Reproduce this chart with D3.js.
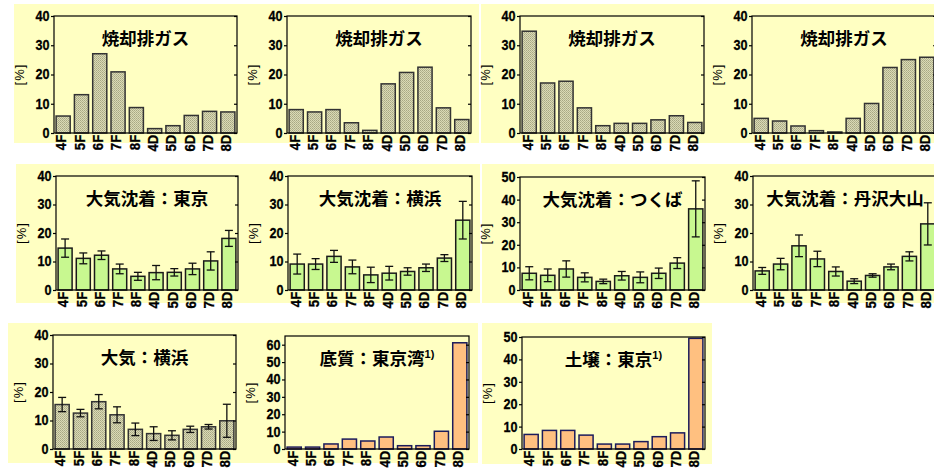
<!DOCTYPE html>
<html>
<head>
<meta charset="utf-8">
<script src="https://cdn.jsdelivr.net/npm/d3@7/dist/d3.min.js"></script>
<style>
  body { margin: 0; background: #fff; }
  svg { display: block; }
</style>
</head>
<body>
<svg id="chart" width="934" height="475"></svg>
<script>
// Homologue categories (F = furans, D = dioxins) shared by every panel
const categories = ["4F", "5F", "6F", "7F", "8F", "4D", "5D", "6D", "7D", "8D"];

// Incineration flue gas profiles [%]
const fluegas1 = [5.8, 13.1, 27.1, 20.9, 8.7, 1.5, 2.5, 6.0, 7.4, 7.2];
const fluegas2 = [8.0, 7.2, 8.0, 3.5, 0.9, 16.8, 20.7, 22.5, 8.6, 4.6];
const fluegas3 = [34.8, 17.1, 17.7, 8.6, 2.5, 3.3, 3.3, 4.5, 5.9, 3.6];
const fluegas4 = [5.0, 4.1, 2.4, 0.8, 0.35, 5.0, 10.1, 22.4, 25.1, 25.9];

// Atmospheric deposition: means and error half-widths [%]
const depTokyo      = [14.7, 11.1, 12.2, 7.4, 4.8, 6.1, 6.2, 7.4, 10.2, 18.1];
const depTokyoErr   = [3.2, 1.9, 1.5, 1.7, 1.4, 2.5, 1.3, 2.0, 3.2, 2.8];
const depYokohama   = [9.1, 9.1, 11.8, 8.1, 5.3, 5.9, 6.5, 7.8, 11.2, 24.5];
const depYokohamaErr= [3.5, 1.9, 2.1, 2.4, 2.7, 2.4, 1.3, 1.3, 1.2, 6.6];
const depTsukuba    = [7.4, 6.5, 9.3, 5.6, 3.8, 6.3, 5.6, 7.4, 11.9, 35.9];
const depTsukubaErr = [2.9, 2.8, 3.6, 2.0, 1.0, 1.9, 2.4, 2.3, 2.4, 12.4];
const depTanzawa    = [6.7, 9.1, 15.5, 10.9, 6.5, 3.1, 5.1, 8.1, 11.8, 23.2];
const depTanzawaErr = [1.2, 2.0, 3.8, 2.7, 1.6, 0.85, 0.6, 1.0, 1.6, 7.4];

// Ambient air, Yokohama
const airYokohama    = [15.6, 12.6, 16.6, 12.0, 6.9, 5.4, 4.8, 6.9, 7.8, 9.9];
const airYokohamaErr = [2.5, 1.3, 2.5, 2.8, 2.2, 2.4, 1.6, 1.1, 0.8, 5.8];

// Sediment (Tokyo Bay) and soil (Tokyo)
const sedimentTokyoBay = [1.1, 1.1, 2.9, 5.7, 4.6, 6.9, 1.9, 1.9, 10.2, 61.1];
const soilTokyo        = [6.5, 8.3, 8.3, 6.2, 2.2, 2.2, 3.3, 5.5, 7.2, 49.4];

// Panel titles
const titles = [
  "焼却排ガス", "焼却排ガス", "焼却排ガス", "焼却排ガス",
  "大気沈着：東京", "大気沈着：横浜", "大気沈着：つくば", "大気沈着：丹沢大山",
  "大気：横浜", "底質：東京湾", "土壌：東京"
];
const titleNotes = ["", "", "", "", "", "", "", "", "", "1)", "1)"];

// Axis extents and tick labels
const yMaxes = [40, 40, 40, 40, 40, 40, 50, 40, 40, 65, 50];
const ticks40 = [0, 10, 20, 30, 40];
const ticks50 = [0, 10, 20, 30, 40, 50];
const ticks60 = [0, 10, 20, 30, 40, 50, 60];
const yLabel = "[%]";

// Series, errors and bar style per panel
const seriesList = [fluegas1, fluegas2, fluegas3, fluegas4,
  depTokyo, depYokohama, depTsukuba, depTanzawa,
  airYokohama, sedimentTokyoBay, soilTokyo];
const errorList = [null, null, null, null,
  depTokyoErr, depYokohamaErr, depTsukubaErr, depTanzawaErr,
  airYokohamaErr, null, null];
const tickList = [ticks40, ticks40, ticks40, ticks40,
  ticks40, ticks40, ticks50, ticks40,
  ticks40, ticks60, ticks50];
const kinds = ["gray", "gray", "gray", "gray",
  "green", "green", "green", "green",
  "gray", "orange", "orange"];

// Layout: background box [x0, x1, y0, y1] and plot box [x0, x1, y0, y1]
const layout = [
  { bg: [14, 247, 4, 143],   plot: [54, 237, 16, 133] },
  { bg: [247, 479, 4, 143],  plot: [287, 471, 16, 133] },
  { bg: [481, 712, 4, 143],  plot: [520, 704, 16, 133] },
  { bg: [712, 940, 4, 143],  plot: [752, 936, 16, 133] },
  { bg: [16, 248, 164, 303], plot: [56, 238, 176, 290] },
  { bg: [248, 480, 164, 303], plot: [288, 472, 176, 290] },
  { bg: [482, 713, 164, 303], plot: [520, 705, 177, 290] },
  { bg: [713, 940, 164, 303], plot: [753, 937, 176, 290] },
  { bg: [8, 245, 323, 463],  plot: [53, 236, 335, 449] },
  { bg: [245, 478, 323, 463], plot: [285, 469, 336, 449] },
  { bg: [482, 712, 323, 464], plot: [522, 705, 337, 449] }
];

const styles = {
  gray:   { fill: "url(#stipple)", stroke: "#333333" },
  green:  { fill: "#c8f890", stroke: "#1a1a1a" },
  orange: { fill: "#ffc080", stroke: "#1c1c5c" }
};
const panelFill = "#ffffc2";
const latinFont = "'Liberation Sans', Arial, sans-serif";
const cjkFont = "'Noto Sans CJK JP', sans-serif";

const svg = d3.select("#chart");
svg.append("rect").attr("width", 934).attr("height", 475).attr("fill", "#fff");

// Fine stipple used for the gray bars
const defs = svg.append("defs");
const pat = defs.append("pattern").attr("id", "stipple")
  .attr("width", 2).attr("height", 2).attr("patternUnits", "userSpaceOnUse");
pat.append("rect").attr("width", 2).attr("height", 2).attr("fill", "#dadab6");
pat.append("rect").attr("width", 1).attr("height", 1).attr("fill", "#a8a884");
pat.append("rect").attr("x", 1).attr("y", 1).attr("width", 1).attr("height", 1).attr("fill", "#b6b690");

// Panel backgrounds first so labels of one row never get covered
layout.forEach(l => {
  const [x0, x1, y0, y1] = l.bg;
  svg.append("rect").attr("x", x0).attr("y", y0)
    .attr("width", x1 - x0).attr("height", y1 - y0).attr("fill", panelFill);
});

layout.forEach((l, i) => {
  const [px0, px1, py0, py1] = l.plot;
  const values = seriesList[i];
  const errs = errorList[i];
  const st = styles[kinds[i]];
  const g = svg.append("g");

  const x = d3.scaleBand().domain(categories).range([px0, px1])
    .paddingInner(0.23).paddingOuter(0.115);
  const y = d3.scaleLinear().domain([0, yMaxes[i]]).range([py1, py0]);

  // Bars
  g.selectAll("rect.bar").data(values).join("rect")
    .attr("class", "bar")
    .attr("x", (d, j) => x(categories[j]))
    .attr("width", x.bandwidth())
    .attr("y", d => y(d))
    .attr("height", d => py1 - y(d))
    .attr("fill", st.fill)
    .attr("stroke", st.stroke)
    .attr("stroke-width", 1.5);

  // Error bars
  if (errs) {
    const cap = 4;
    const eg = g.selectAll("g.err").data(values).join("g").attr("class", "err")
      .attr("transform", (d, j) => `translate(${x(categories[j]) + x.bandwidth() / 2},0)`);
    eg.append("line")
      .attr("y1", (d, j) => y(d + errs[j])).attr("y2", (d, j) => y(Math.max(0, d - errs[j])))
      .attr("stroke", "#111").attr("stroke-width", 1.3);
    eg.append("line").attr("x1", -cap).attr("x2", cap)
      .attr("y1", (d, j) => y(d + errs[j])).attr("y2", (d, j) => y(d + errs[j]))
      .attr("stroke", "#111").attr("stroke-width", 1.3);
    eg.append("line").attr("x1", -cap).attr("x2", cap)
      .attr("y1", (d, j) => y(Math.max(0, d - errs[j]))).attr("y2", (d, j) => y(Math.max(0, d - errs[j])))
      .attr("stroke", "#111").attr("stroke-width", 1.3);
  }

  // Frame
  g.append("rect").attr("x", px0).attr("y", py0)
    .attr("width", px1 - px0).attr("height", py1 - py0)
    .attr("fill", "none").attr("stroke", "#000").attr("stroke-width", 1.2);

  // Left axis (outer ticks) and right axis (inner ticks)
  const left = g.append("g").attr("transform", `translate(${px0},0)`)
    .call(d3.axisLeft(y).tickValues(tickList[i]).tickSize(3).tickPadding(2));
  left.select(".domain").remove();
  left.selectAll("line").attr("stroke", "#000").attr("stroke-width", 1.2);
  left.selectAll("text")
    .attr("transform", "scale(0.9,1)")
    .attr("font-family", latinFont).attr("font-weight", "bold")
    .attr("font-size", 14).attr("fill", "#000")
    .attr("stroke", "#000").attr("stroke-width", 0.3);

  const right = g.append("g").attr("transform", `translate(${px1},0)`)
    .call(d3.axisRight(y).tickValues(tickList[i]).tickSize(-3).tickFormat(""));
  right.select(".domain").remove();
  right.selectAll("line").attr("stroke", "#000").attr("stroke-width", 1.2);

  // Bottom axis: rotated category labels
  const bottom = g.append("g").attr("transform", `translate(0,${py1})`)
    .call(d3.axisBottom(x).tickSize(0).tickPadding(0));
  bottom.select(".domain").remove();
  bottom.selectAll("text")
    .attr("transform", "rotate(-90) scale(0.88,1)")
    .attr("x", -2).attr("y", 0).attr("dy", "0.22em")
    .attr("text-anchor", "end")
    .attr("font-family", latinFont).attr("font-weight", "bold")
    .attr("font-size", 15).attr("fill", "#000")
    .attr("stroke", "#000").attr("stroke-width", 0.3);

  // Y label
  g.append("text")
    .attr("transform", `translate(${px0 - 30},${(py0 + py1) / 2}) rotate(-90)`)
    .attr("text-anchor", "middle")
    .attr("font-family", latinFont).attr("font-size", 13).attr("fill", "#000")
    .attr("letter-spacing", 1)
    .text(yLabel);

  // Title with optional note mark
  const t = g.append("text")
    .attr("x", (px0 + px1) / 2).attr("y", py0 + 29)
    .attr("text-anchor", "middle")
    .attr("font-family", cjkFont).attr("font-weight", "bold")
    .attr("font-size", 17.5).attr("fill", "#000");
  t.append("tspan").text(titles[i]);
  if (titleNotes[i]) {
    t.append("tspan").attr("dy", -7).attr("font-size", 11)
      .attr("font-family", latinFont).text(titleNotes[i]);
  }
});
</script>
</body>
</html>
